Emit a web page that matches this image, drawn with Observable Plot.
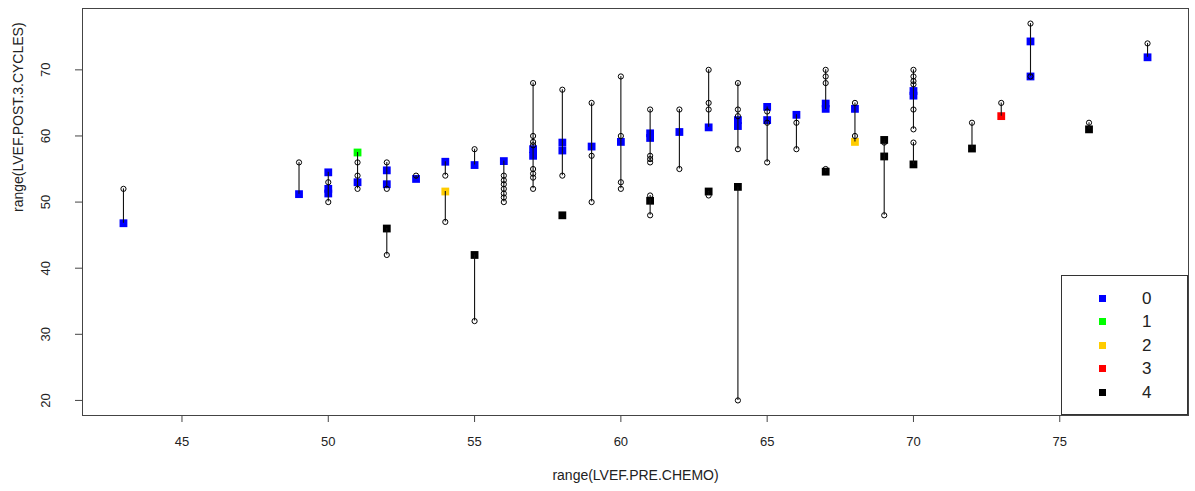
<!DOCTYPE html>
<html>
<head>
<meta charset="utf-8">
<script src="https://cdn.jsdelivr.net/npm/d3@7"></script>
<script src="https://cdn.jsdelivr.net/npm/@observablehq/plot@0.6"></script>
<style>
  body { margin: 0; background: #fff; font-family: "Liberation Sans", Arial, sans-serif; }
  #wrap { position: relative; width: 1195px; height: 491px; }
  #legend { position: absolute; left: 1061px; top: 275px; width: 127px; height: 140px; border: 1px solid #333; box-sizing: border-box; background: #fff; }
  #legend .row { position: absolute; left: 0; width: 100%; height: 20px; }
  #legend .sw { position: absolute; left: 37px; top: 6px; width: 7px; height: 7px; }
  #legend .lb { position: absolute; left: 80px; top: 0; font-size: 17px; line-height: 20px; color: #222; }
</style>
</head>
<body>
<div id="wrap"></div>
<script>
// Legend groups and colours
const groups = [0, 1, 2, 3, 4];
const groupColors = ["#0000FF", "#00FF00", "#FFCC00", "#FF0000", "#000000"];

// Axis ticks
const xTicks = [45, 50, 55, 60, 65, 70, 75];
const yTicks = [20, 30, 40, 50, 60, 70];

// Coloured squares: LVEF pre-chemo (x), post 3 cycles (y), group
const sqX = [43, 49, 50, 50, 50, 51, 51, 52, 52, 52, 53, 54, 54, 55, 55, 56, 57, 57, 58, 58, 58, 59, 60, 61, 61, 61, 62, 63, 63, 64, 64, 64, 65, 65, 66, 67, 67, 67, 68, 68, 69, 69, 70, 70, 70, 72, 73, 74, 74, 76, 78];
const sqY = [46.8, 51.2, 54.5, 52.0, 51.3, 57.5, 53.0, 54.8, 52.7, 46.0, 53.5, 56.1, 51.6, 55.6, 42.0, 56.2, 58.0, 57.0, 59.0, 57.8, 48.0, 58.4, 59.1, 60.4, 59.7, 50.2, 60.6, 61.3, 51.6, 62.4, 61.5, 52.3, 64.4, 62.4, 63.2, 64.9, 64.1, 54.6, 64.1, 59.1, 59.4, 56.9, 66.8, 66.1, 55.7, 58.1, 63.0, 74.3, 69.0, 61.0, 71.9];
const sqG = [0, 0, 0, 0, 0, 1, 0, 0, 0, 4, 0, 0, 2, 0, 4, 0, 0, 0, 0, 0, 4, 0, 0, 0, 0, 4, 0, 0, 4, 0, 0, 4, 0, 0, 0, 0, 0, 4, 0, 2, 4, 4, 0, 0, 4, 4, 3, 0, 0, 4, 0];

// Open circles: individual values
const ciX = [43, 49, 50, 50, 51, 51, 51, 52, 52, 52, 53, 54, 54, 55, 55,
  56, 56, 56, 56, 56, 56, 56,
  57, 57, 57, 57, 57, 57, 57, 57,
  58, 58, 59, 59, 59, 60, 60, 60, 60,
  61, 61, 61, 61, 61, 61, 62, 62, 63, 63, 63, 63,
  64, 64, 64, 64, 64, 65, 65, 65, 66, 66, 67, 67, 67, 67, 68, 68, 69, 69,
  70, 70, 70, 70, 70, 70, 70, 72, 73, 74, 74, 76, 78];
const ciY = [52, 56, 53, 50, 56, 54, 52, 56, 52, 42, 54, 54, 47, 58, 32,
  54, 53.3, 52.7, 52, 51.3, 50.7, 50,
  68, 60, 59.1, 58.6, 55, 54.3, 53.7, 52,
  67, 54, 65, 57, 50, 69, 60, 53, 52,
  64, 57, 56.5, 56, 51, 48, 64, 55, 70, 65, 64, 51,
  68, 64, 63, 58, 20, 63.7, 62, 56, 62, 58, 70, 69, 68, 55, 65, 60, 59, 48,
  70, 69, 68.3, 67.8, 64, 61, 59, 62, 65, 77, 69, 62, 74];

// Vertical segments: x, low end, high end
const segX  = [43, 49, 50, 51, 52, 52, 53, 54, 54, 55, 55, 56, 57, 58, 59, 60, 61, 61, 62, 63, 63, 64, 64, 65, 66, 67, 67, 68, 69, 70, 70, 72, 73, 74, 76, 78];
const segLo = [46.8, 51.2, 50, 52, 52, 42, 53.5, 54, 47, 55.6, 32, 50, 52, 54, 50, 52, 56, 48, 55, 61.3, 51, 58, 20, 56, 58, 64, 54.6, 59.1, 48, 61, 55.7, 58.1, 63, 69, 61, 71.9];
const segHi = [52, 56, 54.5, 57.5, 56, 46, 54, 56.1, 51.6, 58, 42, 56.2, 68, 67, 65, 69, 64, 51, 64, 70, 51.6, 68, 52.3, 64.4, 63.2, 70, 55, 65, 59.4, 70, 59, 62, 65, 77, 62, 74];

const squares = sqX.map((x, i) => ({x, y: sqY[i], g: sqG[i]}));
const circles = ciX.map((x, i) => ({x, y: ciY[i]}));
const segs = segX.map((x, i) => ({x, y1: segLo[i], y2: segHi[i]}));

const chart = Plot.plot({
  width: 1195,
  height: 491,
  marginLeft: 82,
  marginRight: 7,
  marginTop: 8,
  marginBottom: 76,
  x: {domain: [41.6, 79.4]},
  y: {domain: [17.72, 79.28]},
  color: {type: "ordinal", domain: groups, range: groupColors},
  style: {fontFamily: "'Liberation Sans', Arial, sans-serif", fontSize: "13px", color: "#222", background: "#fff"},
  marks: [
    Plot.axisX({ticks: xTicks, tickSize: 7, tickPadding: 14, label: null, tickFormat: d => String(d), stroke: "#444"}),
    Plot.axisY({ticks: yTicks, tickSize: 7, label: null, tickFormat: () => "", stroke: "#444"}),
    Plot.text(yTicks, {y: d => d, text: d => String(d), frameAnchor: "left", dx: -37, rotate: -90, textAnchor: "middle", fill: "#222"}),
    Plot.dot(squares, {x: "x", y: "y", fill: "g", symbol: "square", r: 4.4, stroke: "none"}),
    Plot.ruleX(segs, {x: "x", y1: "y1", y2: "y2", stroke: "#111", strokeWidth: 1.1}),
    Plot.dot(circles, {x: "x", y: "y", r: 2.6, stroke: "#000", fill: "none", strokeWidth: 1}),
    Plot.frame({stroke: "#444"}),
    Plot.text(["range(LVEF.PRE.CHEMO)"], {frameAnchor: "bottom", dy: 64, text: d => d, fill: "#222", fontSize: 14}),
    Plot.text(["range(LVEF.POST.3.CYCLES)"], {frameAnchor: "left", dx: -64, rotate: -90, text: d => d, fill: "#222", fontSize: 14})
  ]
});

const wrap = document.getElementById("wrap");
wrap.appendChild(chart);

// Legend box (bottom right, inside the plot)
const legend = document.createElement("div");
legend.id = "legend";
groups.forEach((g, i) => {
  const row = document.createElement("div");
  row.className = "row";
  row.style.top = (13 + i * 23.4) + "px";
  const sw = document.createElement("div");
  sw.className = "sw";
  sw.style.background = groupColors[i];
  const lb = document.createElement("div");
  lb.className = "lb";
  lb.textContent = String(g);
  row.appendChild(sw);
  row.appendChild(lb);
  legend.appendChild(row);
});
wrap.appendChild(legend);
</script>
</body>
</html>
